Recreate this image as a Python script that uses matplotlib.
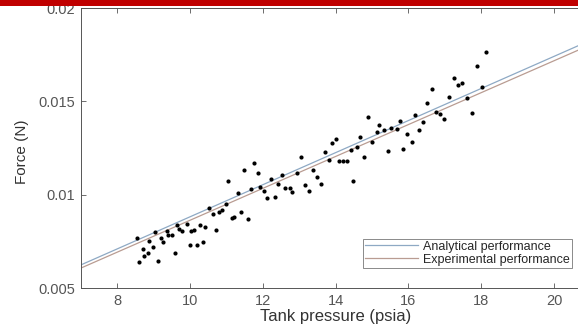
import numpy as np
import matplotlib
matplotlib.use("Agg")
from matplotlib import pyplot as plt
from matplotlib.patches import Rectangle

# measured thrust points (tank pressure in psia, force in N)
pressure = [8.55, 8.71, 8.88, 9.04, 8.60, 8.74, 8.85, 8.99, 9.13, 9.21,
            9.26, 9.37, 9.40, 9.51, 9.59, 9.65, 9.70, 9.79, 9.92, 10.01,
            10.03, 10.12, 10.20, 10.28, 10.36, 10.42, 10.53, 10.64, 10.72, 10.80,
            10.88, 10.99, 11.05, 11.16, 11.21, 11.32, 11.41, 11.49, 11.60, 11.68,
            11.87, 11.93, 12.04, 12.12, 12.23, 12.34, 12.42, 11.76, 12.53, 12.62,
            12.75, 12.81, 12.95, 13.05, 13.16, 13.27, 13.38, 13.49, 13.60, 13.71,
            13.82, 13.91, 14.02, 14.10, 14.21, 14.32, 14.43, 14.48, 14.59, 14.68,
            14.79, 14.90, 15.01, 15.14, 15.20, 15.34, 15.45, 15.53, 15.70, 15.78,
            15.86, 15.97, 16.11, 16.19, 16.30, 16.41, 16.52, 16.65, 16.76, 16.87,
            16.98, 17.12, 17.26, 17.37, 17.48, 17.61, 17.75, 17.89, 18.03, 18.14]
force = [0.00768, 0.00709, 0.00752, 0.00800, 0.00639, 0.00671, 0.00688, 0.00720, 0.00645, 0.00768,
         0.00747, 0.00805, 0.00784, 0.00784, 0.00688, 0.00838, 0.00816, 0.00805, 0.00843, 0.00730,
         0.00805, 0.00811, 0.00730, 0.00838, 0.00747, 0.00827, 0.00929, 0.00897, 0.00811, 0.00907,
         0.00918, 0.00950, 0.01073, 0.00875, 0.00880, 0.01009, 0.00907, 0.01132, 0.00870, 0.01031,
         0.01116, 0.01041, 0.01020, 0.00982, 0.01084, 0.00988, 0.01057, 0.01170, 0.01106, 0.01036,
         0.01036, 0.01014, 0.01116, 0.01202, 0.01052, 0.01020, 0.01132, 0.01095, 0.01057, 0.01229,
         0.01186, 0.01277, 0.01298, 0.01181, 0.01181, 0.01181, 0.01240, 0.01073, 0.01256, 0.01309,
         0.01202, 0.01416, 0.01282, 0.01336, 0.01374, 0.01347, 0.01234, 0.01357, 0.01352, 0.01395,
         0.01245, 0.01325, 0.01282, 0.01427, 0.01347, 0.01390, 0.01491, 0.01566, 0.01443, 0.01432,
         0.01406, 0.01524, 0.01625, 0.01588, 0.01599, 0.01518, 0.01438, 0.01690, 0.01577, 0.01765]

# straight performance lines, given by their end points
line_pressure = [7, 21]
analytical_force = [0.00623, 0.01827]
experimental_force = [0.00606, 0.01803]

xticks = [8, 10, 12, 14, 16, 18, 20]
yticks = [0.005, 0.01, 0.015, 0.02]
ytick_labels = ["0.005", "0.01", "0.015", "0.02"]

plt.rcParams['font.family'] = ['Liberation Sans', 'DejaVu Sans']

fig = plt.figure(figsize=(5.78, 3.27), dpi=100)
ax = fig.add_axes([80.6 / 578, 39 / 327, 509.9 / 578, 280 / 327])

ax.plot(line_pressure, analytical_force, color='#8ea9c4', lw=0.9,
        label='Analytical performance')
ax.plot(line_pressure, experimental_force, color='#b99c92', lw=0.9,
        label='Experimental performance')
ax.scatter(pressure, force, s=9, color='black', zorder=3, linewidths=0)

ax.set_xlim(7, 21)
ax.set_ylim(0.005, 0.02)
ax.set_xticks(xticks)
ax.set_yticks(yticks)
ax.set_yticklabels(ytick_labels)

gray = '#555555'
ax.tick_params(direction='in', length=3.5, width=0.6, colors=gray,
               labelsize=10.5, top=True, right=True, pad=4)
for s in ax.spines.values():
    s.set_color('#555555')
    s.set_linewidth(0.7)

ax.set_xlabel('Tank pressure (psia)', fontsize=12, color='#333333', labelpad=1)
fig.text(22 / 578, (327 - 152) / 327, 'Force (N)', rotation=90,
         fontsize=11, color='#333333', ha='center', va='center')

leg = ax.legend(loc='lower right', bbox_to_anchor=(0.9637, 0.0714),
                borderaxespad=0, fontsize=9, frameon=True, fancybox=False,
                edgecolor='#555555', handlelength=4.2, borderpad=0.18,
                labelspacing=0.08, handletextpad=0.4)
leg.get_frame().set_linewidth(0.6)
for t in leg.get_texts():
    t.set_color('#262626')

# red banner across the top edge
fig.add_artist(Rectangle((0, 1 - 6.3 / 327), 1, 6.3 / 327,
                         transform=fig.transFigure, color='#c00000',
                         zorder=10, lw=0))

fig.savefig('out.png', dpi=100)
